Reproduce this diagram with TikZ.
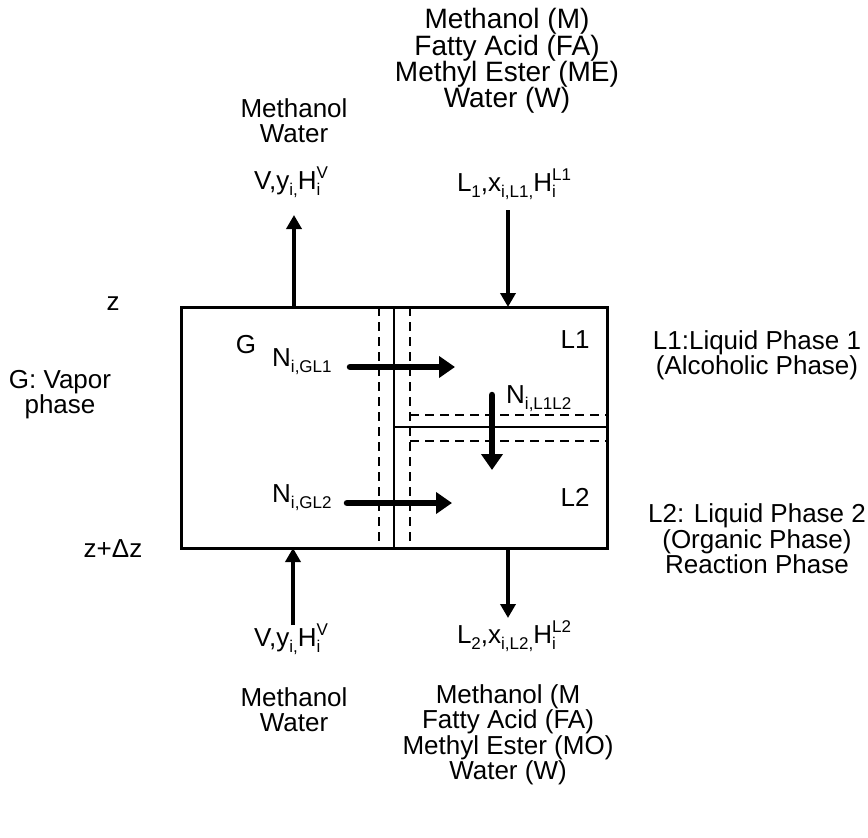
\documentclass[tikz,border=0pt]{standalone}
\usepackage{fontspec}
\setmainfont{Liberation Sans}
\usetikzlibrary{arrows.meta}
\newcommand\lo[1]{\raisebox{-0.24em}{\fontsize{17}{17}\selectfont #1}}
\newcommand\hi[1]{\raisebox{0.42em}{\fontsize{17}{17}\selectfont #1}}
\newcommand\lohi[2]{\rlap{\lo{#1}}\hi{#2}}
\begin{document}
\begin{tikzpicture}[x=1pt,y=-1pt,
  txt/.style={inner sep=0pt,align=center,font=\fontsize{26}{25.5}\selectfont},
  bigtxt/.style={inner sep=0pt,align=center,font=\fontsize{28}{26.3}\selectfont},
  boxline/.style={line width=3pt},
  dashline/.style={line width=1.4pt,dash pattern=on 9pt off 6pt},
  flux/.style={line width=6.5pt,line cap=round,-{Triangle[width=21pt,length=16pt]}},
  stream/.style={line width=4pt,-{Triangle[width=15pt,length=14pt]}}]
\useasboundingbox (0,0) rectangle (868,838);
% main box
\node[draw,boxline,minimum width=426pt,minimum height=241pt,inner sep=0pt] (box) at (394,427.5) {};
% interfaces
\coordinate (vt) at (394,307); \coordinate (vb) at (394,548);
\draw[line width=2.6pt] (vt) -- (vb);
\coordinate (hl) at (394,427); \coordinate (hr) at (607,427);
\draw[line width=2.6pt] (hl) -- (hr);
\coordinate (d1t) at (379,307); \coordinate (d1b) at (379,548);
\coordinate (d2t) at (410,307); \coordinate (d2b) at (410,548);
\draw[dashline] (d1t) -- (d1b);
\draw[dashline] (d2t) -- (d2b);
\coordinate (h1l) at (410,415); \coordinate (h1r) at (607,415);
\coordinate (h2l) at (410,441); \coordinate (h2r) at (607,441);
\draw[dashline] (h1l) -- (h1r);
\draw[dashline] (h2l) -- (h2r);
% flux arrows
\coordinate (f1a) at (350,367); \coordinate (f1b) at (455,367);
\coordinate (f2a) at (347,503); \coordinate (f2b) at (452,503);
\coordinate (f3a) at (492,395); \coordinate (f3b) at (492,470);
\draw[flux] (f1a) -- (f1b);
\draw[flux] (f2a) -- (f2b);
\draw[flux] (f3a) -- (f3b);
\node[txt,anchor=base west] (ngl1) at (272,366) {N\lo{i,GL1}};
\node[txt,anchor=base west] (ngl2) at (272,502) {N\lo{i,GL2}};
\node[txt,anchor=base west] (nl1l2) at (506,403) {N\lo{i,L1L2}};
% phase letters
\node[txt] (G) at (246,345) {G};
\node[txt] (L1) at (575,340) {L1};
\node[txt] (L2) at (575,497) {L2};
% stream arrows
\coordinate (vout) at (294,215); \coordinate (vouts) at (294,307);
\coordinate (l1in) at (508,210); \coordinate (l1ins) at (508,307);
\coordinate (vin) at (293,625); \coordinate (vins) at (293,548);
\coordinate (l2out) at (508,618); \coordinate (l2outs) at (508,548);
\draw[stream] (vouts) -- (vout);
\draw[stream] (l1in) -- (l1ins);
\draw[stream] (vin) -- (vins);
\draw[stream] (l2outs) -- (l2out);
% stream labels
\node[txt] (vtop) at (291,182) {V,y\lo{i,}H\lohi{i}{V}};
\node[txt] (l1top) at (514,184) {L\lo{1},x\lo{i,L1,}H\lohi{i}{L1}};
\node[txt] (vbot) at (291,639) {V,y\lo{i,}H\lohi{i}{V}};
\node[txt] (l2bot) at (514,636) {L\lo{2},x\lo{i,L2,}H\lohi{i}{L2}};
% compositions
\node[txt] (ctl) at (294,120.5) {Methanol\\Water};
\node[bigtxt] (ctr) at (507,61) {Methanol (M)\\Fatty Acid (FA)\\Methyl Ester (ME)\\Water (W)};
\node[txt] (cbl) at (294,709.5) {Methanol\\Water};
\node[txt] (cbr) at (508,735) {Methanol (M\\Fatty Acid (FA)\\Methyl Ester (MO)\\Water (W)};
% side labels
\node[txt] (z) at (113,304) {z};
\node[txt] (zdz) at (113,549) {z+Δz};
\node[txt] (gv) at (60,394.5) {G: Vapor\\phase};
\node[txt] (l1d) at (757,355.5) {L1:Liquid Phase 1\\(Alcoholic Phase)};
\node[txt] (l2d) at (757,539) {L2: Liquid Phase 2\\(Organic Phase)\\Reaction Phase};
\end{tikzpicture}
\end{document}
